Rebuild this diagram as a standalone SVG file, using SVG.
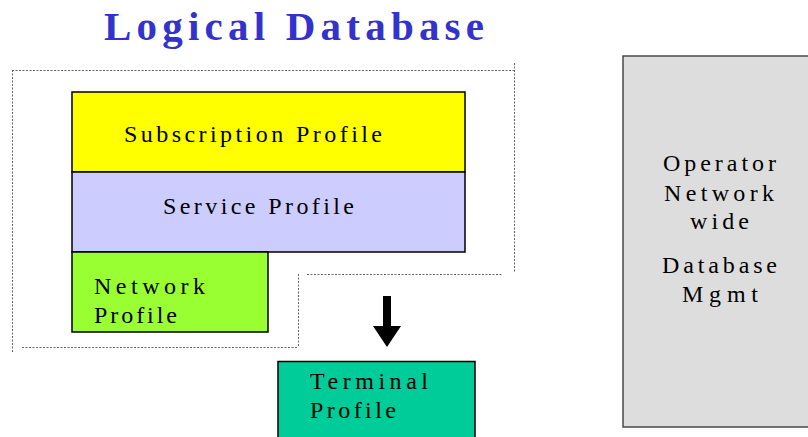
<svg xmlns="http://www.w3.org/2000/svg" width="808" height="437" viewBox="0 0 808 437">
<style>
.box{stroke:#000;stroke-width:1.5}
.lbl{font-family:"Liberation Serif","Times New Roman",serif;font-size:24px;fill:#000}
.dot{stroke:#666;stroke-width:1;stroke-dasharray:2,1.5;fill:none}
.title{font-family:"Liberation Serif","Times New Roman",serif;font-size:41px;font-weight:bold;fill:#3333CC}
</style>
<rect width="808" height="437" fill="#fff"/>
<text class="title" x="104" y="40" textLength="380" lengthAdjust="spacing">Logical Database</text>
<g id="outline">
<line class="dot" x1="12" y1="70.5" x2="514" y2="70.5"/>
<line class="dot" x1="12.5" y1="70" x2="12.5" y2="353"/>
<line class="dot" x1="514.5" y1="63" x2="514.5" y2="273"/>
<line class="dot" x1="307" y1="274.5" x2="503" y2="274.5"/>
<line class="dot" x1="298.5" y1="274" x2="298.5" y2="347"/>
<line class="dot" x1="22" y1="347.5" x2="298" y2="347.5"/>
</g>
<g id="subscription">
<rect class="box" x="72" y="92" width="393" height="80" fill="#FFFF00"/>
<text class="lbl" x="124" y="142" textLength="258" lengthAdjust="spacing">Subscription Profile</text>
</g>
<g id="service">
<rect class="box" x="72" y="172" width="393" height="80" fill="#CCCCFF"/>
<text class="lbl" x="163" y="214" textLength="191" lengthAdjust="spacing">Service Profile</text>
</g>
<g id="network">
<rect class="box" x="72" y="252" width="196" height="80" fill="#99FF33"/>
<text class="lbl" x="94" y="294" textLength="111" lengthAdjust="spacing">Network</text>
<text class="lbl" x="94" y="323" textLength="83" lengthAdjust="spacing">Profile</text>
</g>
<g id="terminal">
<rect class="box" x="278" y="361.5" width="197" height="90" fill="#00CC99"/>
<text class="lbl" x="310" y="389" textLength="118" lengthAdjust="spacing">Terminal</text>
<text class="lbl" x="310" y="418" textLength="86" lengthAdjust="spacing">Profile</text>
</g>
<g id="opdb">
<rect x="623" y="56" width="200" height="371" fill="#DDDDDD" stroke="#4a4a4a" stroke-width="1.5"/>
<text class="lbl" x="663" y="171" textLength="113" lengthAdjust="spacing">Operator</text>
<text class="lbl" x="664" y="201" textLength="110" lengthAdjust="spacing">Network</text>
<text class="lbl" x="690" y="229" textLength="59" lengthAdjust="spacing">wide</text>
<text class="lbl" x="662" y="273" textLength="115" lengthAdjust="spacing">Database</text>
<text class="lbl" x="682" y="302" textLength="76" lengthAdjust="spacing">Mgmt</text>
</g>
<g id="connectors">
<polygon points="383,296 391,296 391,326 401,326 387,347 373,326 383,326" fill="#000"/>
</g>
</svg>
